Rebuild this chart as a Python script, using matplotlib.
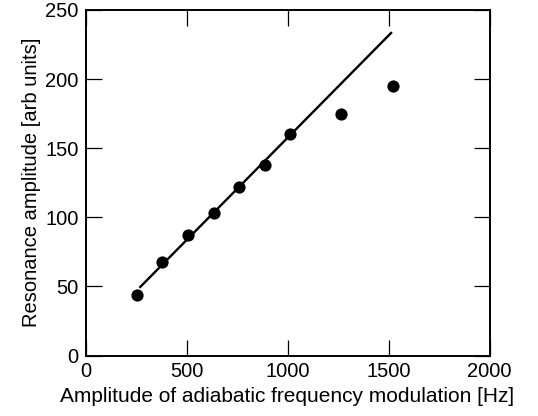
import numpy as np
from matplotlib import pyplot as plt

plt.rcParams['font.family'] = ['Liberation Sans', 'DejaVu Sans']

# measured points
mod_amp = [254, 378, 505, 634, 761, 890, 1013, 1264, 1522]
res_amp = [44, 68, 87, 103, 122, 138, 160, 175, 195]

# straight-line fit drawn through the low-amplitude points
fit_x = [267, 1517]
fit_y = [49, 234]

x_ticks = [0, 500, 1000, 1500, 2000]
y_ticks = [0, 50, 100, 150, 200, 250]

fig = plt.figure(figsize=(5.38, 4.16), dpi=100)
ax = fig.add_axes([85.5/538, 1-355.5/416, 404/538, 345.5/416])

ax.plot(fit_x, fit_y, color='black', lw=1.7, solid_capstyle='butt')
ax.plot(mod_amp, res_amp, 'o', color='black', ms=8.8, mec='none')

ax.set_xlim(0, 2000)
ax.set_ylim(0, 250)
ax.set_xticks(x_ticks)
ax.set_yticks(y_ticks)
ax.tick_params(direction='in', length=11.5, width=0.9, top=True, right=True,
               labelsize=14.5, pad=5)
for s in ax.spines.values():
    s.set_linewidth(1.4)

ax.set_xlabel('Amplitude of adiabatic frequency modulation [Hz]', fontsize=15, labelpad=4)
ax.set_ylabel('Resonance amplitude [arb units]', fontsize=14.5, labelpad=3)

plt.savefig('out.png', dpi=100)
